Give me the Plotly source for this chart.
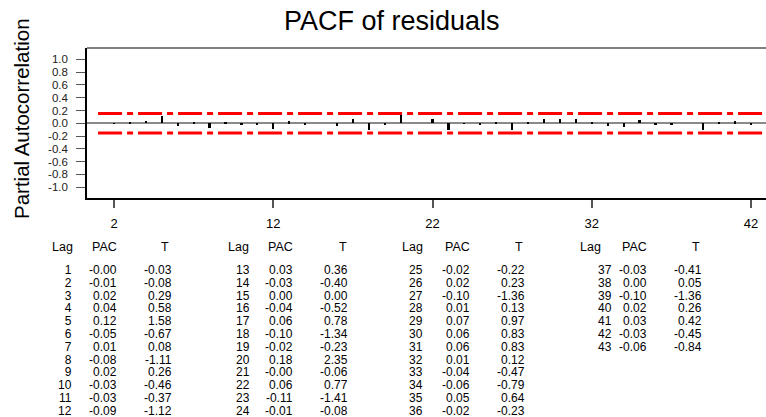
import plotly.graph_objects as go

# ---------------- data ----------------
lags = list(range(1, 44))
pac = [-0.00, -0.01, 0.02, 0.04, 0.12, -0.05, 0.01, -0.08, 0.02, -0.03, -0.03, -0.09,
       0.03, -0.03, 0.00, -0.04, 0.06, -0.10, -0.02, 0.18, -0.00, 0.06, -0.11, -0.01,
       -0.02, 0.02, -0.10, 0.01, 0.07, 0.06, 0.06, 0.01, -0.04, -0.06, 0.05, -0.02,
       -0.03, 0.00, -0.10, 0.02, 0.03, -0.03, -0.06]
pac_text = ["-0.00", "-0.01", "0.02", "0.04", "0.12", "-0.05", "0.01", "-0.08", "0.02", "-0.03",
            "-0.03", "-0.09", "0.03", "-0.03", "0.00", "-0.04", "0.06", "-0.10", "-0.02", "0.18",
            "-0.00", "0.06", "-0.11", "-0.01", "-0.02", "0.02", "-0.10", "0.01", "0.07", "0.06",
            "0.06", "0.01", "-0.04", "-0.06", "0.05", "-0.02", "-0.03", "0.00", "-0.10", "0.02",
            "0.03", "-0.03", "-0.06"]
tstat = [-0.03, -0.08, 0.29, 0.58, 1.58, -0.67, 0.08, -1.11, 0.26, -0.46, -0.37, -1.12,
         0.36, -0.40, 0.00, -0.52, 0.78, -1.34, -0.23, 2.35, -0.06, 0.77, -1.41, -0.08,
         -0.22, 0.23, -1.36, 0.13, 0.97, 0.83, 0.83, 0.12, -0.47, -0.79, 0.64, -0.23,
         -0.41, 0.05, -1.36, 0.26, 0.42, -0.45, -0.84]
conf_limit = 0.153
x_tickvals = [2, 12, 22, 32, 42]
y_tickvals = [1.0, 0.8, 0.6, 0.4, 0.2, 0.0, -0.2, -0.4, -0.6, -0.8, -1.0]
y_ticktext = ["1.0", "0.8", "0.6", "0.4", "0.2", "0.0", "-0.2", "-0.4", "-0.6", "-0.8", "-1.0"]
headers = ["Lag", "PAC", "T"]

W, H = 766, 417
FONT = "Liberation Sans, Arial, sans-serif"

def px(x):
    return x / W

def py(y):
    return 1 - y / H

fig = go.Figure()

# confidence limits
lim_x = [lags[0], lags[-1]]
for s in (1, -1):
    fig.add_trace(go.Scatter(x=lim_x, y=[s * conf_limit] * 2, mode="lines",
                             line=dict(color="#ff0000", width=3, dash="24px,5px,6px,5px"),
                             hoverinfo="skip", showlegend=False))

# PACF spikes
fig.add_trace(go.Bar(x=lags, y=pac, width=0.14, marker=dict(color="black", line=dict(width=0)),
                     showlegend=False))

plot_left, plot_top, plot_bottom = 87, 48, 198

fig.update_layout(
    width=W, height=H,
    margin=dict(l=0, r=0, t=0, b=0),
    paper_bgcolor="white", plot_bgcolor="white",
    font=dict(family=FONT, color="black"),
    bargap=0,
    xaxis=dict(domain=[px(plot_left), 1.0], range=[0.305, 42.94],
               tickvals=x_tickvals, ticks="outside", ticklen=8, tickwidth=1.5,
               tickcolor="#555555", tickfont=dict(size=13, color="black"),
               ticklabelstandoff=5,
               showgrid=False, zeroline=False, showline=True, linecolor="black",
               linewidth=1.5),
    yaxis=dict(domain=[py(plot_bottom), py(plot_top)], range=[-1.168, 1.177],
               tickvals=y_tickvals, ticktext=y_ticktext, ticks="outside", ticklen=9,
               tickwidth=1, tickcolor="#555555", tickfont=dict(size=11.5, color="#222222"),
               ticklabelstandoff=6,
               showgrid=False, zeroline=True, zerolinecolor="#8a8a8a", zerolinewidth=1.5,
               showline=True, linecolor="black", linewidth=1.5),
)

# top border (gray)
fig.add_shape(type="line", xref="paper", yref="paper",
              x0=px(plot_left), x1=1.0, y0=py(plot_top), y1=py(plot_top),
              line=dict(color="#808080", width=2))

annotations = []
annotations.append(dict(text="PACF of residuals", x=px(392), y=py(21), xref="paper", yref="paper",
                        xanchor="center", yanchor="middle", showarrow=False,
                        font=dict(size=27, family=FONT, color="black")))
annotations.append(dict(text="Partial Autocorrelation", x=px(21), y=py(119), xref="paper",
                        yref="paper", xanchor="center", yanchor="middle", textangle=-90,
                        showarrow=False, font=dict(size=20.5, family=FONT, color="black")))

# table layout (right edges of columns, per group)
col_right = [(73, 118, 173), (251, 294, 349), (424, 471, 526), (613, 648, 703)]
hdr_right = [(75, 119, 171), (251, 295, 349), (425, 472, 525), (603, 649, 702)]
hdr_y = 247
row0_y = 268
row_dy = 12.8
line_font = row_dy / 1.3  # plotly multi-line spacing is 1.3em
for g in range(4):
    for c, h in enumerate(headers):
        annotations.append(dict(text=h, x=px(hdr_right[g][c]), y=py(hdr_y), xref="paper",
                                yref="paper", xanchor="right", yanchor="middle",
                                showarrow=False, font=dict(size=12.5, family=FONT, color="black")))
    idx = [i for i in range(len(lags)) if i // 12 == g]
    cols = [[str(lags[i]) for i in idx], [pac_text[i] for i in idx],
            [f"{tstat[i]:.2f}" for i in idx]]
    for c, vals in enumerate(cols):
        txt = "<br>".join(f"<span style='font-size:12px'>{v}</span>" for v in vals)
        annotations.append(dict(text=txt, x=px(col_right[g][c]), y=py(row0_y - row_dy / 2),
                                xref="paper", yref="paper", xanchor="right", yanchor="top",
                                align="right", showarrow=False, borderpad=0,
                                font=dict(size=line_font, family=FONT, color="black")))

fig.update_layout(annotations=annotations)
fig.write_html("out.html")
